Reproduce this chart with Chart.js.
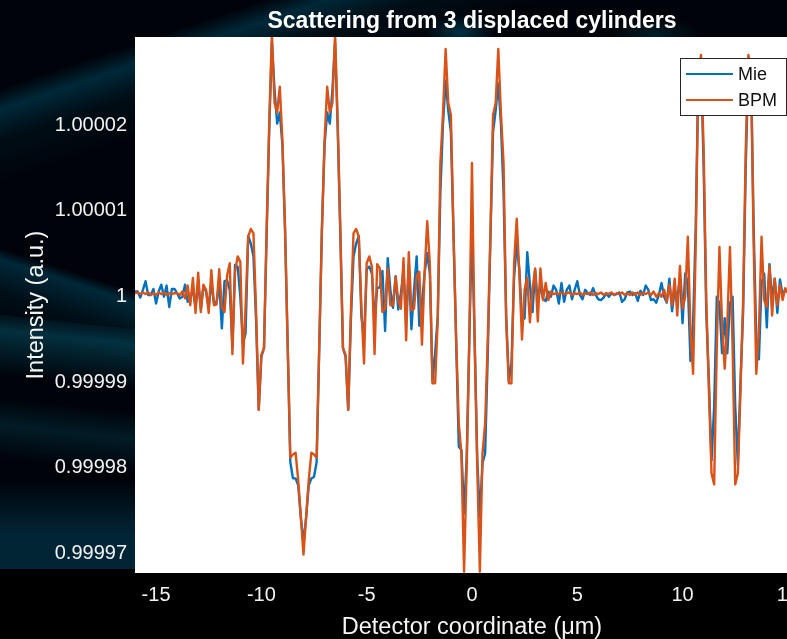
<!DOCTYPE html>
<html>
<head>
<meta charset="utf-8">
<script src="https://cdn.jsdelivr.net/npm/chart.js@4"></script>
<style>
html,body{margin:0;padding:0;width:787px;height:639px;overflow:hidden;background:#000}
#bg{position:absolute;left:0;top:0;width:787px;height:569px;overflow:hidden;background:#00040a}
.s{position:absolute;transform-origin:0 50%}
#c{position:absolute;left:0;top:0}
</style>
</head>
<body>
<div id="bg">
<div class="s" style="left:-80px;top:118px;width:1000px;height:90px;transform:rotate(-18.5deg);background:linear-gradient(to bottom,rgba(0,60,85,0),rgba(0,62,84,.62) 22%,rgba(0,40,55,.25) 55%,rgba(0,30,40,0))"></div>
<div class="s" style="left:-80px;top:224px;width:400px;height:70px;transform:rotate(18deg);background:linear-gradient(to bottom,rgba(0,60,80,0),rgba(0,62,84,.62) 15%,rgba(0,40,55,.3) 60%,rgba(0,30,40,0))"></div>
<div class="s" style="left:-30px;top:312px;width:220px;height:60px;transform:rotate(6deg);background:linear-gradient(to bottom,rgba(5,60,80,.2),rgba(5,66,84,.7) 25%,rgba(0,30,40,0))"></div>
<div class="s" style="left:-30px;top:395px;width:220px;height:60px;transform:rotate(6deg);background:linear-gradient(to bottom,rgba(5,60,80,0),rgba(5,60,78,.42) 45%,rgba(0,30,40,0))"></div>
<div class="s" style="left:0;top:480px;width:200px;height:90px;background:linear-gradient(to bottom,rgba(0,40,60,0),rgba(2,45,65,.8) 60%,rgba(2,42,60,.85))"></div>
<div class="s" style="left:425px;top:15px;width:70px;height:36px;background:radial-gradient(closest-side,rgba(0,80,110,.6),rgba(0,80,110,0))"></div>
<div class="s" style="left:610px;top:18px;width:90px;height:34px;background:radial-gradient(closest-side,rgba(0,70,80,.4),rgba(0,70,80,0))"></div>
</div>
<canvas id="c" width="809" height="642" style="width:809px;height:642px"></canvas>
<script>
const xCoordinate = [-16,-15.875,-15.75,-15.625,-15.5,-15.375,-15.25,-15.125,-15,-14.875,-14.75,-14.625,-14.5,-14.375,-14.25,-14.125,-14,-13.875,-13.75,-13.625,-13.5,-13.375,-13.25,-13.125,-13,-12.875,-12.75,-12.625,-12.5,-12.375,-12.25,-12.125,-12,-11.875,-11.75,-11.625,-11.5,-11.375,-11.25,-11.125,-11,-10.875,-10.75,-10.625,-10.5,-10.375,-10.25,-10.125,-10,-9.875,-9.75,-9.625,-9.5,-9.375,-9.25,-9.125,-9,-8.875,-8.75,-8.625,-8.5,-8.375,-8.25,-8.125,-8,-7.875,-7.75,-7.625,-7.5,-7.375,-7.25,-7.125,-7,-6.875,-6.75,-6.625,-6.5,-6.375,-6.25,-6.125,-6,-5.875,-5.75,-5.625,-5.5,-5.375,-5.25,-5.125,-5,-4.875,-4.75,-4.625,-4.5,-4.375,-4.25,-4.125,-4,-3.875,-3.75,-3.625,-3.5,-3.375,-3.25,-3.125,-3,-2.875,-2.75,-2.625,-2.5,-2.375,-2.25,-2.125,-2,-1.875,-1.75,-1.625,-1.5,-1.375,-1.25,-1.125,-1,-0.875,-0.75,-0.625,-0.5,-0.375,-0.25,-0.125,0,0.125,0.25,0.375,0.5,0.625,0.75,0.875,1,1.125,1.25,1.375,1.5,1.625,1.75,1.875,2,2.125,2.25,2.375,2.5,2.625,2.75,2.875,3,3.125,3.25,3.375,3.5,3.625,3.75,3.875,4,4.125,4.25,4.375,4.5,4.625,4.75,4.875,5,5.125,5.25,5.375,5.5,5.625,5.75,5.875,6,6.125,6.25,6.375,6.5,6.625,6.75,6.875,7,7.125,7.25,7.375,7.5,7.625,7.75,7.875,8,8.125,8.25,8.375,8.5,8.625,8.75,8.875,9,9.125,9.25,9.375,9.5,9.625,9.75,9.875,10,10.125,10.25,10.375,10.5,10.625,10.75,10.875,11,11.125,11.25,11.375,11.5,11.625,11.75,11.875,12,12.125,12.25,12.375,12.5,12.625,12.75,12.875,13,13.125,13.25,13.375,13.5,13.625,13.75,13.875,14,14.125,14.25,14.375,14.5,14.625,14.75,14.875,15,15.125,15.25,15.375,15.5,15.625,15.75,15.875,16];

const mieIntensity = [1.0000004,1.0000004,0.9999997,1.0000006,1.0000016,1,1,1.0000007,0.999999,1.0000004,
1.0000012,0.9999998,1.0000011,0.9999986,1.0000007,1.0000007,1.0000002,0.9999996,0.9999998,1.0000012,
0.9999992,0.9999995,1.0000008,0.9999985,1.0000014,0.9999984,1.000001,1.0000004,0.9999985,1.0000015,
0.999999,0.9999992,1.0000014,0.9999961,1.0000016,1.0000017,1.0000006,0.999994,1.0000035,1.0000033,
0.9999998,0.9999944,0.9999955,1.0000069,1.000006,1.0000045,0.999997,0.9999866,0.9999928,0.9999938,
1.000007,1.0000195,1.0000295,1.000024,1.00002,1.0000213,1.0000175,1.0000076,0.999994,0.9999805,
0.9999786,0.9999786,0.9999778,0.999974,0.9999712,0.999974,0.9999778,0.9999786,0.9999788,0.9999805,
0.999994,1.0000076,1.0000175,1.0000213,1.00002,1.000024,1.0000295,1.0000195,1.000007,0.9999938,
0.9999928,0.9999866,0.999997,1.0000045,1.000006,1.0000069,0.9999975,0.9999948,1.000003,1.0000033,
1.0000025,0.9999971,1.0000008,1.0000009,1.0000028,0.9999958,1.0000043,1.0000006,0.9999985,1.0000022,
0.9999983,1.0000002,1.0000028,0.999997,1.0000035,0.999996,1.0000006,1.0000045,0.9999964,0.999999,
1.0000025,1.0000049,1.0000025,0.99999,0.9999932,0.9999975,1.000012,1.00002,1.000025,1.0000215,
1.000019,1.000007,0.9999945,0.9999823,0.9999819,0.9999745,0.999981,0.999995,1.0000079,0.999995,
0.999981,0.9999741,0.9999804,0.9999815,0.999993,1.0000065,1.000019,1.0000215,1.0000247,1.00002,
1.000012,0.9999975,0.99999,0.999992,1.000002,1.000006,1.000003,0.999997,0.9999973,1.000005,
1.0000013,0.999998,1.0000029,0.9999992,1.0000012,0.9999995,0.9999993,1.0000004,0.9999998,1.0000011,
1.0000006,0.999999,1.0000014,0.9999992,1.0000006,1.0000011,0.9999995,1.0000006,1.0000016,1,
0.9999995,1.0000006,1.0000002,1,1.0000008,1,0.9999995,0.9999994,0.9999997,1.0000002,
0.9999998,1.0000002,1,1.0000001,1.0000003,0.9999992,0.9999995,1.0000003,1.0000004,1,
1.0000002,0.9999993,1.0000005,1,1.0000011,1.0000006,0.9999994,0.9999995,0.9999991,1,
1.0000014,0.9999998,0.9999991,1.0000019,0.9999981,1.0000006,0.9999996,1.000002,0.9999967,1.0000025,
1.0000014,0.9999923,0.9999967,1.000008,1.000026,1.000027,1.000015,0.999998,0.99999,0.9999807,
0.999987,0.9999998,0.999999,0.9999932,0.9999973,0.9999932,0.999999,0.9999998,0.999987,0.9999802,
0.99999,0.999998,1.000015,1.000027,1.000026,1.000008,0.999995,0.9999925,1.0000014,1.0000025,
0.9999962,1.0000036,0.9999994,1.0000019,0.9999979,1.0000018,1,1.0000006,1.0000003,0.9999996,
1.0000005,0.9999998,1.0000004,1.0000001,0.9999998,1.0000003,1.0000001];

const bpmIntensity = [1.0000002,1.0000003,1.0000001,1.0000003,1.0000001,1.0000003,1,1.0000002,1,1.0000003,
1.0000001,1.0000003,1,1.0000002,1.0000001,1.0000002,1.0000002,1,1.0000004,0.9999996,
1.0000011,0.9999988,1.000002,0.9999979,1.0000026,0.999998,1.0000012,1.0000006,0.9999979,1.0000029,
0.9999988,0.9999989,1.000003,0.9999986,0.999998,1.0000023,1.0000037,0.9999931,1.0000027,1.0000045,
1.0000039,0.999992,0.9999986,1.0000068,1.0000077,1.0000072,0.999998,0.9999866,0.999993,0.9999938,
1.0000076,1.00002,1.0000305,1.0000224,1.0000213,1.0000243,1.000018,1.0000076,0.9999942,0.999981,
0.9999814,0.9999816,0.9999784,0.9999741,0.9999697,0.9999741,0.9999784,0.9999816,0.9999814,0.999981,
0.9999942,1.0000076,1.000018,1.0000243,1.0000213,1.0000224,1.0000305,1.00002,1.0000076,0.9999938,
0.999993,0.9999866,0.999998,1.0000072,1.0000077,1.0000068,0.9999986,0.999992,1.0000037,1.0000045,
1.0000033,0.9999931,1.0000036,1.0000031,0.999998,0.9999984,1.0000031,0.9999988,0.9999988,1.0000021,
0.9999994,0.9999984,1.0000043,0.9999947,1.000005,0.9999982,0.9999984,1.0000023,1.0000027,0.9999942,
1.0000025,1.0000086,1.0000037,0.9999897,0.9999897,0.999997,1.0000154,1.0000212,1.0000287,1.0000224,
1.000021,1.000007,0.9999948,0.999985,0.9999815,0.9999677,0.99998,0.9999948,1.0000154,0.9999948,
0.99998,0.9999677,0.9999815,0.999985,0.9999948,1.000007,1.000021,1.0000224,1.0000287,1.0000212,
1.0000154,0.999997,0.9999897,0.9999897,1.0000037,1.0000089,1.0000025,0.9999948,1.0000006,1.000002,
0.9999968,1.0000006,1.0000031,0.9999969,1.0000031,0.9999994,1.0000014,0.9999994,1.0000004,1.0000001,
1.0000002,1.0000001,1.0000003,1.0000001,1.0000002,1.0000003,1,1.0000002,1.0000001,1.0000003,
1,1.0000002,1.0000001,1.0000003,1,1.0000002,1.0000001,1.0000003,1,1.0000002,
1.0000001,1.0000003,1,1.0000002,1.0000001,1.0000003,1,1.0000002,1,1.0000003,
1,1.0000003,1,1.0000003,1.0000001,1.0000003,1,1.0000004,0.9999998,1.0000002,
0.9999998,1.0000006,0.9999992,1.0000012,0.9999988,1.0000019,0.9999976,1.0000034,0.9999984,0.9999998,
1.0000068,0.9999959,0.9999908,1.000006,1.000026,1.000028,1.000017,0.9999994,0.9999889,0.9999792,
0.9999779,0.999994,1.0000056,0.9999967,0.9999914,0.9999967,1.0000056,0.999994,0.9999779,0.9999792,
0.9999889,0.9999994,1.000017,1.000028,1.000026,1.000006,0.9999908,0.9999959,1.0000068,0.9999994,
0.9999986,1.0000034,0.9999976,1.0000019,0.9999988,1.0000012,0.9999994,1.0000008,1.0000002,0.9999998,
1.0000004,1,1.0000003,1.0000001,1.0000002,1.0000001,1.0000002];

const xTickValues = [-15,-10,-5,0,5,10,15];
const yTickValues = [0.99997,0.99998,0.99999,1,1.00001,1.00002];
const yTickLabels = ["0.99997","0.99998","0.99999","1","1.00001","1.00002"];
const seriesNames = ["Mie","BPM"];
const seriesColors = ["#0072BD","#D95319"];

const FONT = "'Liberation Sans', Arial, sans-serif";
const TICK_WHITE = "#f2f2f2";

const plotBackground = {
  id: "plotBackground",
  beforeDatasetsDraw(chart) {
    const a = chart.chartArea, c = chart.ctx;
    c.save(); c.fillStyle = "#ffffff";
    c.fillRect(a.left, a.top, a.right - a.left, a.bottom - a.top);
    c.restore();
  }
};

const insideLegend = {
  id: "insideLegend",
  afterDraw(chart) {
    const c = chart.ctx;
    c.save();
    c.fillStyle = "#ffffff";
    c.strokeStyle = "#262626";
    c.lineWidth = 1;
    c.fillRect(680.5, 58.5, 106, 57);
    c.strokeRect(680.5, 58.5, 106, 57);
    c.font = "18px " + FONT;
    c.textBaseline = "middle";
    chart.data.datasets.forEach((d, k) => {
      const y = 74 + k * 26;
      c.strokeStyle = d.borderColor;
      c.lineWidth = 2;
      c.beginPath(); c.moveTo(686, y); c.lineTo(733, y); c.stroke();
      c.fillStyle = "#111111";
      c.fillText(d.label, 738, y + 1);
    });
    c.restore();
  }
};

new Chart(document.getElementById("c"), {
  type: "line",
  data: {
    datasets: [
      { label: seriesNames[0], order: 2, data: xCoordinate.map((x, k) => ({ x, y: mieIntensity[k] })), borderColor: seriesColors[0], backgroundColor: seriesColors[0], borderWidth: 2.4, pointRadius: 0, tension: 0, borderJoinStyle: "round", fill: false },
      { label: seriesNames[1], order: 1, data: xCoordinate.map((x, k) => ({ x, y: bpmIntensity[k] })), borderColor: seriesColors[1], backgroundColor: seriesColors[1], borderWidth: 2.4, pointRadius: 0, tension: 0, borderJoinStyle: "round", fill: false }
    ]
  },
  plugins: [plotBackground, insideLegend],
  options: {
    responsive: false,
    animation: false,
    layout: { padding: 0 },
    events: [],
    plugins: {
      legend: { display: false },
      tooltip: { enabled: false },
      title: {
        display: true,
        text: "Scattering from 3 displaced cylinders",
        color: "#ffffff",
        fullSize: false,
        font: { family: FONT, size: 23, weight: "bold" },
        padding: { top: 8, bottom: 1.4 }
      }
    },
    scales: {
      x: {
        type: "linear",
        min: -16,
        max: 16,
        afterBuildTicks(axis) { axis.ticks = xTickValues.map(v => ({ value: v })); },
        afterFit(axis) { axis.height = 69; },
        grid: { display: false, drawTicks: false },
        border: { display: false },
        ticks: {
          color: TICK_WHITE,
          font: { family: FONT, size: 20 },
          padding: 10,
          maxRotation: 0,
          autoSkip: false,
          callback: v => String(v)
        },
        title: {
          display: true,
          text: "Detector coordinate (μm)",
          color: "#f5f5f5",
          font: { family: FONT, size: 23.5 },
          padding: { top: 0, bottom: 0 }
        }
      },
      y: {
        type: "linear",
        min: 0.99996756,
        max: 1.0000301,
        afterBuildTicks(axis) { axis.ticks = yTickValues.map(v => ({ value: v })); },
        afterFit(axis) { axis.width = 135; },
        grid: { display: false, drawTicks: false },
        border: { display: false },
        ticks: {
          color: TICK_WHITE,
          font: { family: FONT, size: 20 },
          padding: 8,
          labelOffset: 1.5,
          autoSkip: false,
          callback: v => yTickLabels[yTickValues.indexOf(v)]
        },
        title: {
          display: true,
          text: "Intensity (a.u.)",
          color: "#f5f5f5",
          font: { family: FONT, size: 23.5 },
          padding: { top: 22, bottom: 0 }
        }
      }
    }
  }
});
</script>
</body>
</html>
